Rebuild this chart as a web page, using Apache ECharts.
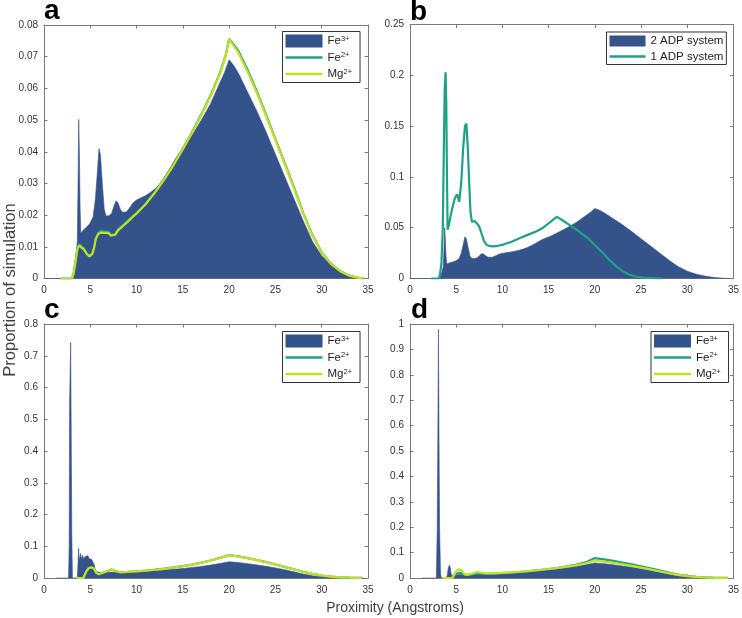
<!DOCTYPE html>
<html>
<head>
<meta charset="utf-8">
<script src="https://cdn.jsdelivr.net/npm/echarts@6.0.0/dist/echarts.min.js"></script>
<style>html,body{margin:0;padding:0;background:#fff}#c{width:742px;height:618px}</style>
</head>
<body>
<div id="c"></div>
<script>
// ---------- data (x in Angstroms, y proportion) ----------
const xTicks = [0, 5, 10, 15, 20, 25, 30, 35];
const yMaxA = 0.08, yIntA = 0.01;
const yMaxB = 0.25, yIntB = 0.05;
const yMaxC = 0.8,  yIntC = 0.1;
const yMaxD = 1.0,  yIntD = 0.1;

const fe3_a = [[0,0],[3.2,0],[3.3,0.002],[3.45,0.006],[3.6,0.012],[3.68,0.03],[3.75,0.0502],[3.82,0.04],[3.9,0.022],[3.98,0.0143],[4.25,0.0153],[4.6,0.0162],[4.97,0.0174],[5.3,0.0195],[5.55,0.025],[5.75,0.033],[5.94,0.041],[6.1,0.039],[6.3,0.03],[6.5,0.022],[6.7,0.0197],[7.0,0.0198],[7.3,0.0205],[7.55,0.0228],[7.78,0.0245],[8.0,0.0238],[8.25,0.0218],[8.5,0.0209],[8.9,0.021],[9.3,0.0225],[9.6,0.0238],[9.95,0.0247],[10.5,0.0255],[11.0,0.0262],[11.6,0.0274],[12.2,0.0288],[12.7,0.0305],[13.2,0.0328],[13.7,0.0352],[14.2,0.0378],[14.7,0.0398],[15.2,0.0415],[16,0.0452],[17,0.05],[18,0.0552],[19,0.0618],[19.5,0.065],[20,0.069],[20.5,0.0672],[21,0.0648],[22,0.0588],[23,0.0528],[24,0.0462],[25,0.0392],[26,0.0322],[27,0.0252],[28,0.0182],[29,0.0117],[30,0.0072],[31,0.0042],[32,0.0022],[33,0.0009],[34,0.0002],[34.6,0]];
const fe2_a = [[1.8,0],[3.0,0],[3.2,0.0016],[3.4,0.0052],[3.6,0.0096],[3.8,0.0109],[4.0,0.0103],[4.3,0.0095],[4.6,0.008],[4.9,0.0072],[5.2,0.0079],[5.4,0.0097],[5.6,0.0128],[5.85,0.0144],[6.1,0.015],[6.6,0.0149],[7.0,0.0147],[7.2,0.0138],[7.4,0.0133],[7.7,0.0141],[8.0,0.0155],[8.5,0.0168],[9.0,0.0181],[9.6,0.0197],[10,0.0207],[11,0.0237],[12,0.0274],[13,0.0315],[14,0.036],[15,0.041],[16,0.0462],[17,0.0518],[18,0.0578],[19,0.0648],[19.6,0.0702],[20,0.0756],[20.4,0.0742],[21,0.0718],[22,0.0658],[23,0.059],[24,0.0516],[25,0.044],[26,0.0365],[27,0.0288],[28,0.0207],[29,0.0137],[30,0.0083],[31,0.0047],[32,0.0023],[33,0.0009],[34,0.0002],[34.6,0]];
const mg2_a = [[1.8,0],[3.0,0],[3.2,0.0015],[3.4,0.005],[3.6,0.0092],[3.8,0.0104],[4.0,0.0098],[4.3,0.0092],[4.6,0.0078],[4.9,0.007],[5.2,0.0077],[5.4,0.0095],[5.6,0.0125],[5.85,0.014],[6.1,0.0145],[6.6,0.0144],[7.0,0.0143],[7.2,0.0135],[7.4,0.013],[7.7,0.0138],[8.0,0.0152],[8.5,0.0165],[9.0,0.0178],[9.6,0.0195],[10,0.0205],[11,0.0235],[12,0.0272],[13,0.0313],[14,0.0358],[15,0.0408],[16,0.046],[17,0.0515],[18,0.0575],[19,0.0645],[19.6,0.07],[20,0.0755],[20.4,0.0738],[21,0.0712],[22,0.0652],[23,0.0585],[24,0.0512],[25,0.0437],[26,0.0362],[27,0.0285],[28,0.0205],[29,0.0135],[30,0.0082],[31,0.0046],[32,0.0023],[33,0.0009],[34,0.0002],[34.6,0]];

const adp2_b = fe3_a;
const adp1_b = [[2.3,0],[3.1,0],[3.25,0.004],[3.4,0.015],[3.55,0.05],[3.65,0.12],[3.75,0.185],[3.85,0.203],[3.93,0.17],[4.0,0.1],[4.07,0.048],[4.2,0.052],[4.4,0.062],[4.6,0.07],[4.85,0.079],[5.1,0.083],[5.33,0.0755],[5.55,0.095],[5.75,0.128],[5.95,0.15],[6.1,0.1524],[6.25,0.13],[6.4,0.095],[6.55,0.065],[6.7,0.0558],[7.0,0.0565],[7.2,0.0567],[7.45,0.052],[7.74,0.0444],[8.0,0.037],[8.3,0.033],[8.7,0.0318],[9.0,0.0317],[9.5,0.0322],[10.1,0.0334],[11,0.0362],[11.9,0.0399],[12.8,0.0432],[13.7,0.0465],[14.4,0.05],[15.1,0.055],[15.5,0.058],[15.9,0.0606],[16.5,0.0573],[17.2,0.053],[18,0.0482],[18.7,0.0434],[19.4,0.0384],[20.1,0.032],[20.85,0.0253],[21.6,0.018],[22.3,0.0122],[23,0.0072],[23.7,0.004],[24.4,0.002],[25.2,0.001],[26.2,0.0003],[27.3,0]];

const fe3_c = [[1.3,0],[2.65,0],[2.72,0.1],[2.77,0.56],[2.83,0.56],[2.88,0.742],[2.93,0.5],[3.0,0.15],[3.07,0],[3.6,0],[3.68,0.05],[3.74,0.094],[3.8,0.055],[3.88,0.05],[3.95,0.078],[4.02,0.06],[4.1,0.055],[4.18,0.072],[4.26,0.06],[4.35,0.058],[4.45,0.068],[4.55,0.062],[4.65,0.066],[4.75,0.07],[4.85,0.062],[4.95,0.06],[5.05,0.064],[5.15,0.058],[5.25,0.062],[5.35,0.058],[5.45,0.04],[5.55,0.022],[5.7,0.018],[6.0,0.0175],[6.5,0.0185],[7,0.018],[8,0.0182],[9,0.019],[10,0.0202],[11,0.0215],[12,0.0232],[13,0.025],[14,0.0272],[15,0.0298],[16,0.033],[17,0.0365],[18,0.0408],[19,0.0458],[20,0.0512],[21,0.0485],[22,0.0452],[23,0.0412],[24,0.0368],[25,0.0318],[26,0.0262],[27,0.0195],[28,0.0128],[29,0.0068],[30,0.003],[31,0.0012],[32,0.0004],[33,0]];
const fe2_c = [[3.5,0],[4.3,0],[4.45,0.012],[4.65,0.024],[4.85,0.031],[5.1,0.0335],[5.4,0.029],[5.6,0.0175],[5.9,0.0118],[6.3,0.0158],[6.8,0.0212],[7.3,0.0268],[7.7,0.0222],[8.2,0.0182],[9,0.0192],[10,0.0212],[11,0.0234],[12,0.0262],[13,0.0293],[14,0.0332],[15,0.0373],[16,0.0422],[17,0.0482],[18,0.0552],[19,0.0632],[20,0.0722],[21,0.0682],[22,0.0628],[23,0.0568],[24,0.0498],[25,0.0425],[26,0.035],[27,0.0274],[28,0.0197],[29,0.013],[30,0.0079],[31,0.0045],[32,0.0022],[33,0.0009],[34,0.0002],[34.3,0.0008],[34.4,0]];
const mg2_c = [[3.5,0],[4.25,0],[4.4,0.01],[4.6,0.022],[4.8,0.03],[5.1,0.034],[5.4,0.03],[5.6,0.018],[5.9,0.012],[6.3,0.016],[6.8,0.021],[7.3,0.027],[7.7,0.022],[8.2,0.018],[9,0.019],[10,0.021],[11,0.0232],[12,0.026],[13,0.029],[14,0.033],[15,0.037],[16,0.042],[17,0.048],[18,0.055],[19,0.063],[20,0.072],[21,0.0678],[22,0.0625],[23,0.0565],[24,0.0495],[25,0.0422],[26,0.0348],[27,0.0272],[28,0.0195],[29,0.0128],[30,0.0078],[31,0.0044],[32,0.0022],[33,0.0009],[34,0.0002],[34.3,0]];

const fe3_d = [[1.3,0],[2.85,0],[2.95,0.2],[3.02,0.6],[3.08,0.979],[3.13,0.6],[3.2,0.2],[3.3,0.02],[3.38,0],[3.95,0],[4.05,0.015],[4.15,0.04],[4.26,0.051],[4.36,0.04],[4.46,0.015],[4.56,0.005],[4.75,0.008],[5.0,0.012],[5.5,0.015],[6.0,0.0135],[7.0,0.0155],[8.0,0.0168],[9,0.018],[10,0.0198],[11,0.0215],[12,0.0235],[13,0.026],[14,0.0288],[15,0.032],[16,0.0358],[17,0.0402],[18,0.0455],[19,0.052],[20,0.0595],[21,0.0562],[22,0.052],[23,0.0472],[24,0.042],[25,0.036],[26,0.0295],[27,0.022],[28,0.0145],[29,0.008],[30,0.0038],[31,0.0015],[32,0.0005],[33,0]];
const fe2_d = [[3.5,0],[4.5,0],[4.65,0.006],[4.8,0.014],[5.0,0.019],[5.3,0.021],[5.6,0.018],[5.9,0.0135],[6.3,0.0128],[6.8,0.0155],[7.3,0.0185],[7.8,0.0165],[8.5,0.0162],[9.2,0.0175],[10,0.0195],[11,0.0215],[12,0.024],[13,0.027],[14,0.031],[15,0.0352],[16,0.04],[17,0.0458],[18,0.0528],[19,0.0615],[20,0.0785],[21,0.0735],[22,0.0672],[23,0.0605],[24,0.0535],[25,0.046],[26,0.038],[27,0.0298],[28,0.0215],[29,0.0138],[30,0.0082],[31,0.0045],[32,0.0022],[33,0.0009],[34,0.0002],[34.3,0.0008],[34.4,0]];
const mg2_d = [[3.5,0],[4.6,0],[4.75,0.01],[4.9,0.022],[5.1,0.031],[5.35,0.034],[5.6,0.03],[5.85,0.017],[6.1,0.012],[6.5,0.0145],[7.0,0.021],[7.3,0.0235],[7.7,0.021],[8.2,0.018],[9,0.0185],[10,0.0205],[11,0.0225],[12,0.025],[13,0.028],[14,0.0315],[15,0.0355],[16,0.04],[17,0.045],[18,0.051],[19,0.058],[20,0.069],[21,0.0648],[22,0.0598],[23,0.054],[24,0.0478],[25,0.041],[26,0.034],[27,0.0266],[28,0.019],[29,0.0122],[30,0.0074],[31,0.0041],[32,0.002],[33,0.0008],[34,0.0002],[34.4,0]];

// ---------- styling ----------
const BLUE = '#35538b', TEAL = '#1fa283', YEL = '#c4e023';
const FONT = 'Liberation Sans, Arial, sans-serif';
const AX = '#7a7a7a';
const LINE_ICON = 'path://M0,0H40V2.6H0Z';

const grids = [
  {left: 44, top: 25, width: 324, height: 253.5},
  {left: 410, top: 24.5, width: 324, height: 254},
  {left: 44, top: 324, width: 324, height: 254},
  {left: 410, top: 324, width: 323.5, height: 254}
];
const yRanges = [[yMaxA, yIntA], [yMaxB, yIntB], [yMaxC, yIntC], [yMaxD, yIntD]];

const xAxis = [], yAxis = [];
grids.forEach((g, i) => {
  const common = {
    gridIndex: i, type: 'value',
    axisLine: {show: true, onZero: false, lineStyle: {color: AX, width: 1}},
    axisTick: {show: true, inside: true, length: 3.5, lineStyle: {color: AX}},
    splitLine: {show: false}
  };
  const lab = {show: true, color: '#333', fontSize: 10, fontFamily: FONT};
  xAxis.push(Object.assign({}, common, {position: 'bottom', min: xTicks[0], max: xTicks[xTicks.length-1], interval: xTicks[1]-xTicks[0], axisLabel: Object.assign({margin: 7}, lab)}));
  xAxis.push(Object.assign({}, common, {position: 'top', min: xTicks[0], max: xTicks[xTicks.length-1], interval: xTicks[1]-xTicks[0], axisLabel: {show: false}}));
  yAxis.push(Object.assign({}, common, {position: 'left', min: 0, max: yRanges[i][0], interval: yRanges[i][1], axisLabel: Object.assign({margin: 6}, lab)}));
  yAxis.push(Object.assign({}, common, {position: 'right', min: 0, max: yRanges[i][0], interval: yRanges[i][1], axisLabel: {show: false}}));
});

function area(name, data, gi) {
  return {name, type: 'line', data, xAxisIndex: 2*gi, yAxisIndex: 2*gi, symbol: 'none', showSymbol: false,
    lineStyle: {color: BLUE, width: 0.6}, itemStyle: {color: BLUE}, areaStyle: {color: BLUE, opacity: 1}, z: 2};
}
function line(name, data, gi, color, z) {
  return {name, type: 'line', data, xAxisIndex: 2*gi, yAxisIndex: 2*gi, symbol: 'none', showSymbol: false,
    lineStyle: {color, width: 2.2}, itemStyle: {color}, z};
}

const series = [
  area('Fe3+', fe3_a, 0), line('Fe2+', fe2_a, 0, TEAL, 3), line('Mg2+', mg2_a, 0, YEL, 4),
  area('2 ADP system', adp2_b, 1), line('1 ADP system', adp1_b, 1, TEAL, 3),
  area('Fe3+', fe3_c, 2), line('Fe2+', fe2_c, 2, TEAL, 3), line('Mg2+', mg2_c, 2, YEL, 4),
  area('Fe3+', fe3_d, 3), line('Fe2+', fe2_d, 3, TEAL, 3), line('Mg2+', mg2_d, 3, YEL, 4)
];

const supMap = {'Fe3+': 'Fe{s|3+}', 'Fe2+': 'Fe{s|2+}', 'Mg2+': 'Mg{s|2+}'};
function ionLegend(left, top) {
  return {
    orient: 'vertical', left, top, padding: [3, 8, 2, 3], itemGap: 3.5,
    itemWidth: 37, itemHeight: 13, borderColor: '#333', borderWidth: 1, backgroundColor: '#fff',
    selectedMode: false, symbolKeepAspect: true,
    data: [{name: 'Fe3+', icon: 'rect'}, {name: 'Fe2+', icon: LINE_ICON}, {name: 'Mg2+', icon: LINE_ICON}],
    formatter: n => supMap[n] || n,
    textStyle: {fontSize: 11.5, color: '#222', fontFamily: FONT, lineHeight: 13,
      rich: {s: {fontSize: 7.5, verticalAlign: 'top', lineHeight: 13, color: '#222', fontFamily: FONT}}}
  };
}
const legend = [
  ionLegend(282.5, 31.5),
  {orient: 'vertical', left: 606.5, top: 32, padding: [3, 3, 2, 3], itemGap: 3.5,
   itemWidth: 36, itemHeight: 11, borderColor: '#333', borderWidth: 1, backgroundColor: '#fff', selectedMode: false,
   symbolKeepAspect: true,
   data: [{name: '2 ADP system', icon: 'rect'}, {name: '1 ADP system', icon: LINE_ICON}],
   textStyle: {fontSize: 11.5, color: '#222', fontFamily: FONT}},
  ionLegend(282.5, 331.5),
  ionLegend(651, 331.5)
];

const letterStyle = {fontSize: 28, fontWeight: 'bold', color: '#000', fontFamily: FONT};
const title = [
  {text: 'a', left: 44, top: -3, padding: 0, textStyle: letterStyle},
  {text: 'b', left: 410, top: -2, padding: 0, textStyle: letterStyle},
  {text: 'c', left: 44, top: 296, padding: 0, textStyle: letterStyle},
  {text: 'd', left: 411, top: 296, padding: 0, textStyle: letterStyle}
];

const graphic = [
  {type: 'text', x: 10, y: 290, rotation: Math.PI/2, style: {text: 'Proportion of simulation', fontSize: 16.5, fill: '#404040', fontFamily: FONT, align: 'center', verticalAlign: 'middle'}},
  {type: 'text', x: 395, y: 608, style: {text: 'Proximity (Angstroms)', fontSize: 14, fill: '#404040', fontFamily: FONT, align: 'center', verticalAlign: 'middle'}}
];

const chart = echarts.init(document.getElementById('c'), null, {renderer: 'canvas'});
chart.setOption({animation: false, backgroundColor: '#fff', title, legend, grid: grids, xAxis, yAxis, series, graphic});
</script>
</body>
</html>
